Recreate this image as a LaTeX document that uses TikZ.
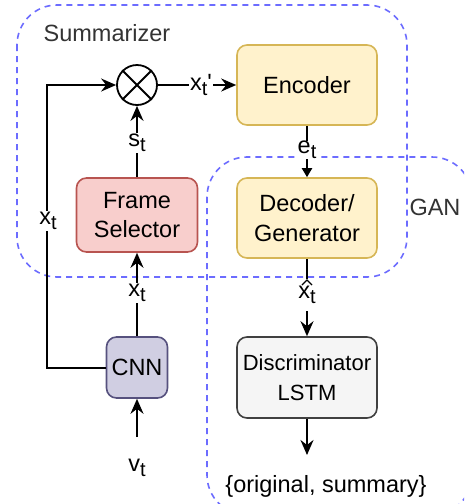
\documentclass[tikz,border=0pt]{standalone}
\usepackage{fontspec}
\setmainfont{Liberation Sans}
\usetikzlibrary{arrows.meta}

\definecolor{encfill}{HTML}{FFF2CC}
\definecolor{encline}{HTML}{D6B656}
\definecolor{selfill}{HTML}{F8CECC}
\definecolor{selline}{HTML}{B85450}
\definecolor{cnnfill}{HTML}{D0CEE2}
\definecolor{cnnline}{HTML}{56517E}
\definecolor{disfill}{HTML}{F5F5F5}
\definecolor{disline}{HTML}{404040}
\definecolor{groupline}{HTML}{6C6CFF}
\definecolor{grouptext}{HTML}{333333}

% lowered subscript in text
\newcommand{\sbs}[1]{\raisebox{-5pt}{\fontsize{20}{20}\selectfont #1}}

\begin{document}
\begin{tikzpicture}[x=1pt,y=-1pt,
  txt/.style={font=\fontsize{23.5}{29.5}\selectfont},
  box/.style={txt, draw, rounded corners=10pt, line width=1.6pt, align=center, inner sep=0pt},
  group/.style={draw=groupline, line width=1.6pt, dash pattern=on 6pt off 5pt, rounded corners=40pt},
  arr/.style={line width=2pt, -{Stealth[length=15pt,width=13pt,inset=5pt]}},
  smallarr/.style={line width=2pt, -{Triangle[length=9pt,width=10pt]}},
  lbl/.style={txt, fill=white, inner sep=1pt},
  grouplbl/.style={txt, text=grouptext}]

\useasboundingbox (0,0) rectangle (464,504);

% groups
\draw[group] (17,5) rectangle (407,277);
\begin{scope}
  \clip (0,0) rectangle (464,504);
  \draw[group] (207,157) rectangle (472,515);
\end{scope}
\node[grouplbl] (sumlbl) at (107,33) {Summarizer};
\node[grouplbl] (ganlbl) at (435,207) {GAN};

% blocks
\node[box, fill=encfill, draw=encline, minimum width=140pt, minimum height=80pt] (enc) at (307,85) {Encoder};
\node[box, fill=encfill, draw=encline, minimum width=140pt, minimum height=80pt] (dec) at (307,218) {Decoder/\\Generator};
\node[box, fill=selfill, draw=selline, minimum width=121pt, minimum height=74pt] (sel) at (137,215) {Frame\\Selector};
\node[box, fill=cnnfill, draw=cnnline, minimum width=61pt, minimum height=61pt] (cnn) at (137,367.5) {CNN};
\node[box, fill=disfill, draw=disline, minimum width=140pt, minimum height=81pt, font=\fontsize{22}{29.3}\selectfont] (dis) at (307,377.5) {Discriminator\\LSTM};

% multiplier
\node[draw, circle, line width=1.8pt, minimum size=40pt, inner sep=0pt] (mul) at (137,85) {};
\draw[line width=1.8pt] (mul.north east) -- (mul.south west) (mul.north west) -- (mul.south east);

% free ends
\coordinate (vin) at (137,437);
\coordinate (out) at (307,455);

% connectors
\draw[arr] (cnn.west) -- ++(-59pt,0) |- (mul.west);
\draw[arr] (sel.north) -- (mul.south);
\draw[arr] (cnn.north) -- (sel.south);
\draw[arr] (vin) -- (cnn.south);
\draw[arr] (mul.east) -- (enc.west);
\draw[smallarr] (enc.south) -- (dec.north);
\draw[arr] (dec.south) -- (dis.north);
\draw[arr] (dis.south) -- (out);

% connector labels
\node[lbl] (lx1) at (48,221) {x\sbs{t}};
\node[lbl] (ls) at (137,143) {s\sbs{t}};
\node[lbl] (lx2) at (137,293) {x\sbs{t}};
\node[lbl] (lx3) at (201,85) {x\sbs{t}\textquotesingle};
\node[lbl, inner ysep=0pt] (le) at (307,150) {e\sbs{t}};
\node[lbl, inner ysep=0pt, minimum height=32pt] (lxh) at (307,295) {x\sbs{t}};
% circumflex over the x of the generated sample
\draw[line width=1.4pt, line join=miter] (302,285) -- (307,280) -- (312,285);
\node[txt] (lv) at (137,468) {v\sbs{t}};
\node[txt] (outlbl) at (326,486) {\{original, summary\}};

\end{tikzpicture}
\end{document}
